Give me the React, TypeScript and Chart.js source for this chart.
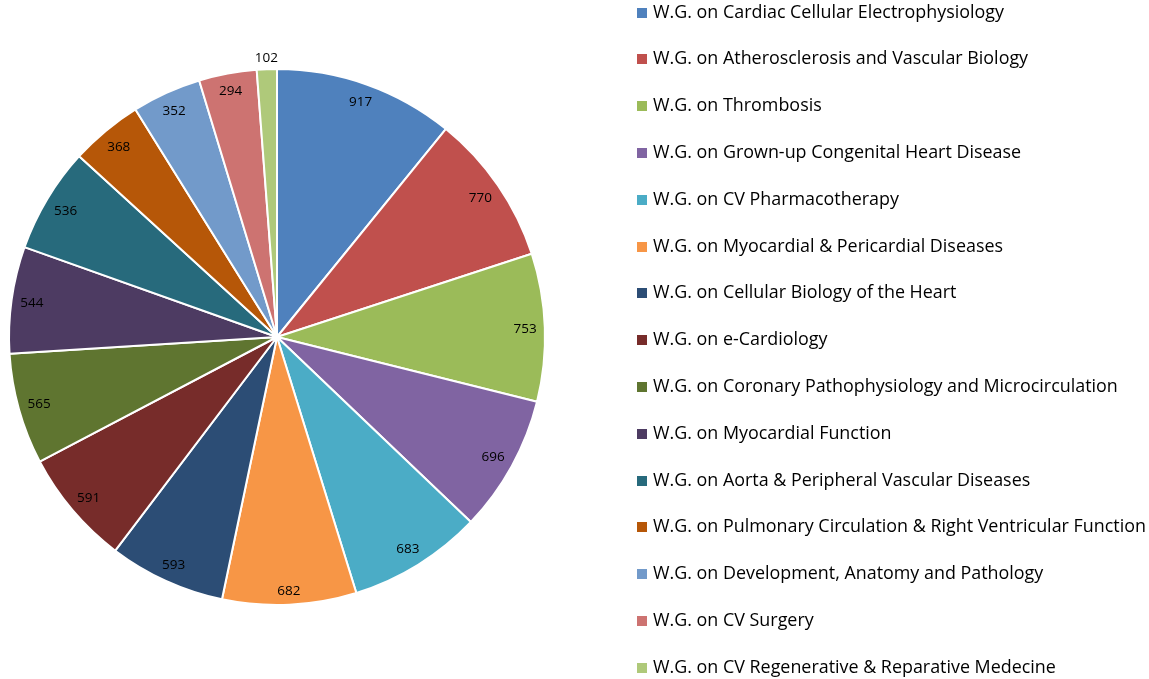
import { useEffect, useRef } from "react";
import { Chart, registerables } from "chart.js";

Chart.register(...registerables);

const categories = [
  "W.G. on Cardiac Cellular Electrophysiology",
  "W.G. on Atherosclerosis and Vascular Biology",
  "W.G. on Thrombosis",
  "W.G. on Grown-up Congenital Heart Disease",
  "W.G. on CV Pharmacotherapy",
  "W.G. on Myocardial & Pericardial Diseases",
  "W.G. on Cellular Biology of the Heart",
  "W.G. on e-Cardiology",
  "W.G. on Coronary Pathophysiology and Microcirculation",
  "W.G. on Myocardial Function",
  "W.G. on Aorta & Peripheral Vascular Diseases",
  "W.G. on Pulmonary Circulation & Right Ventricular Function",
  "W.G. on Development, Anatomy and Pathology",
  "W.G. on CV Surgery",
  "W.G. on CV Regenerative & Reparative Medecine",
];

const values = [917, 770, 753, 696, 683, 682, 593, 591, 565, 544, 536, 368, 352, 294, 102];

const colors = [
  "#4F81BD",
  "#C0504D",
  "#9BBB59",
  "#8064A2",
  "#4BACC6",
  "#F79646",
  "#2C4D75",
  "#772C2A",
  "#5F7530",
  "#4D3B62",
  "#276A7C",
  "#B65708",
  "#729ACA",
  "#CD7371",
  "#AFC97A",
];

const valueLabelsPlugin = {
  id: "valueLabels",
  afterDatasetsDraw(chart: any) {
    const meta = chart.getDatasetMeta(0);
    const ctx = chart.ctx;
    const data = chart.data.datasets[0].data;
    ctx.save();
    ctx.font = '13.5px "Open Sans"';
    ctx.fillStyle = "#000000";
    ctx.textAlign = "center";
    ctx.textBaseline = "middle";
    meta.data.forEach((arc: any, i: number) => {
      const p = arc.getProps(["x", "y", "startAngle", "endAngle", "outerRadius"], true);
      const mid = (p.startAngle + p.endAngle) / 2;
      const text = String(data[i]);
      const w = ctx.measureText(text).width;
      const h = 13;
      const c = Math.cos(mid);
      const s = Math.sin(mid);
      const ext = (Math.abs(c) * w) / 2 + (Math.abs(s) * h) / 2;
      const outside = p.endAngle - p.startAngle < 0.1;
      const d = outside ? p.outerRadius + 5 + ext : p.outerRadius - 8 - ext;
      ctx.fillText(text, p.x + c * d, p.y + s * d + 1);
    });
    ctx.restore();
  },
};

const legendPlugin = {
  id: "customLegend",
  afterDraw(chart: any) {
    const ctx = chart.ctx;
    const labels = chart.data.labels as string[];
    const bg = chart.data.datasets[0].backgroundColor as string[];
    ctx.save();
    ctx.font = '17.9px "Open Sans"';
    ctx.textAlign = "left";
    ctx.textBaseline = "middle";
    labels.forEach((label, i) => {
      const y = 12.5 + i * 46.8;
      ctx.fillStyle = bg[i];
      ctx.fillRect(637, Math.round(y - 5), 10, 10);
      ctx.fillStyle = "#000000";
      ctx.fillText(label, 653, y);
    });
    ctx.restore();
  },
};

export default function App() {
  const ref = useRef<HTMLCanvasElement | null>(null);
  useEffect(() => {
    if (!ref.current) return;
    const chart = new Chart(ref.current, {
      type: "pie",
      data: {
        labels: categories,
        datasets: [
          {
            data: values,
            backgroundColor: colors,
            borderColor: "#ffffff",
            borderWidth: 2,
          },
        ],
      },
      options: {
        responsive: false,
        animation: false,
        devicePixelRatio: 1,
        layout: { padding: { left: 8, top: 68, right: 1149 - 546, bottom: 679 - 606 } },
        plugins: {
          legend: { display: false },
          tooltip: { enabled: false },
        },
      },
      plugins: [valueLabelsPlugin, legendPlugin],
    });
    return () => chart.destroy();
  }, []);
  return (
    <div style={{ position: "absolute", left: 0, top: 0, width: 1149, height: 679, background: "#fff" }}>
      <canvas ref={ref} width={1149} height={679} />
    </div>
  );
}
